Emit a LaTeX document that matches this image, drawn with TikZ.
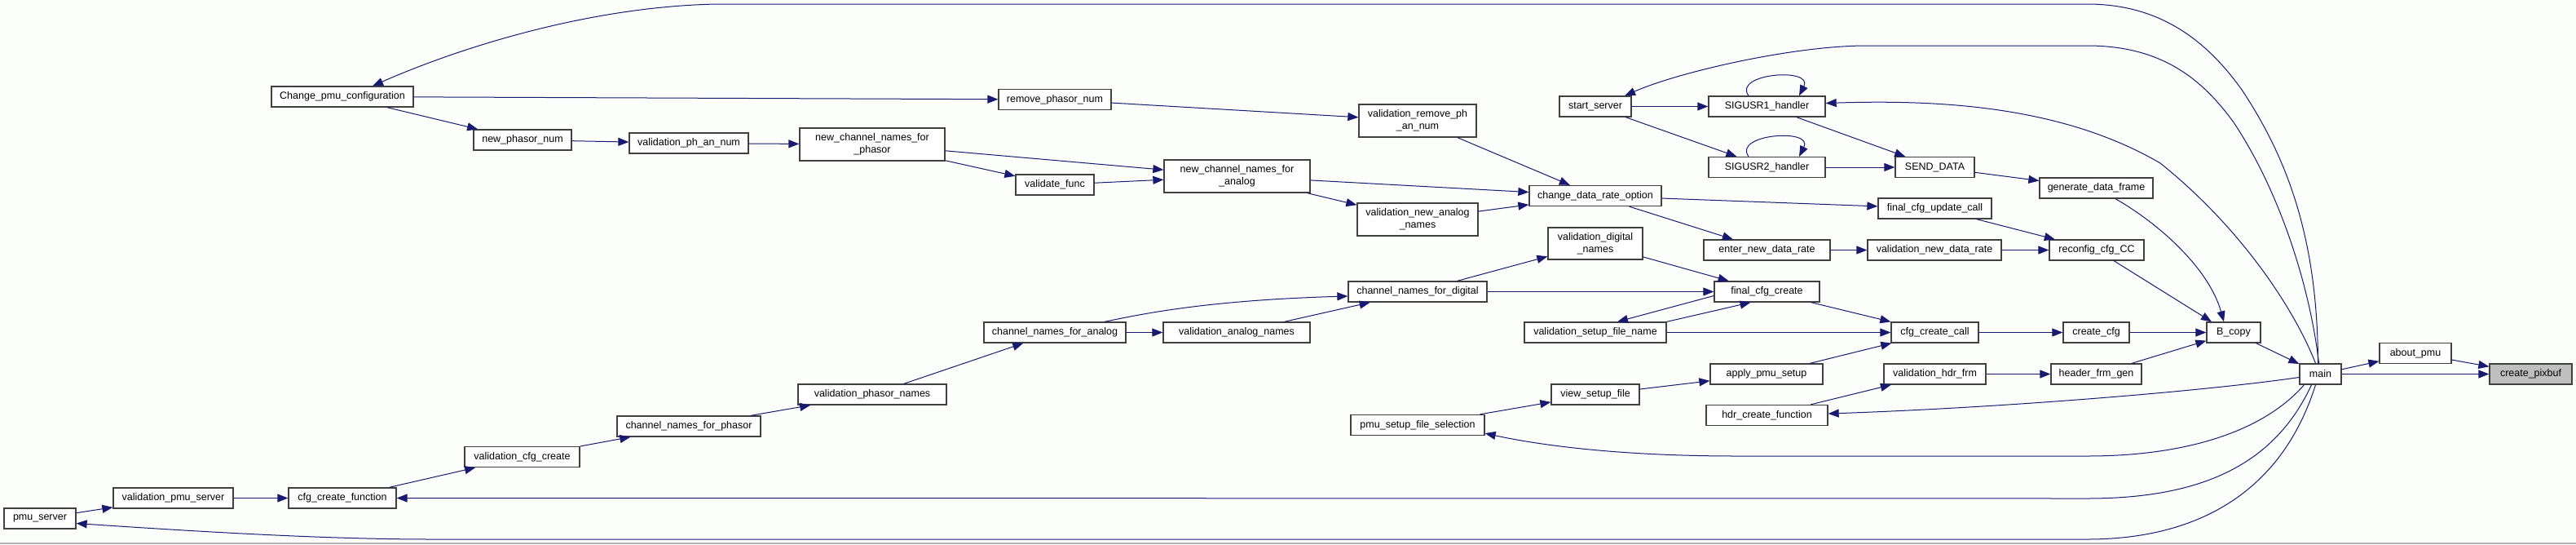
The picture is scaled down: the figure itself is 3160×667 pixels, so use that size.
\documentclass[tikz,border=0pt]{standalone}
\usepackage{fontspec}
\setmainfont{Liberation Sans}
\usetikzlibrary{arrows.meta}
\definecolor{edgecol}{HTML}{191970}
\definecolor{nodeborder}{HTML}{404040}
\definecolor{hilite}{HTML}{BFBFBF}
\definecolor{bgcol}{HTML}{FCFEFC}
\begin{document}
\begin{tikzpicture}[x=1pt,y=-1pt,
  fn/.style={draw=nodeborder, fill=white, line width=1.3pt, inner sep=0pt,
    minimum height=25pt, align=center, font=\fontsize{12.5}{15}\selectfont},
  two/.style={minimum height=40pt},
  conn/.style={draw=edgecol, line width=1pt, -{Triangle[length=13pt,width=10pt]}}]
\useasboundingbox (0,0) rectangle (3160,667);
\fill[bgcol] (0,0) rectangle (3160,667);
\draw[gray!60, line width=1.5pt] (0,666) -- (3160,666);

% nodes
\node[fn, minimum width=174pt] (Change) at (420,118.5) {Change\_pmu\_configuration};
\node[fn, minimum width=88pt] (pmuserver) at (49,635.5) {pmu\_server};
\node[fn, minimum width=147pt] (vpmus) at (212.5,610.5) {validation\_pmu\_server};
\node[fn, minimum width=132pt] (cff) at (420,610.5) {cfg\_create\_function};
\node[fn, minimum width=120pt] (npn) at (641,171.5) {new\_phasor\_num};
\node[fn, minimum width=146pt] (vpan) at (845,175.5) {validation\_ph\_an\_num};
\node[fn, two, minimum width=178pt] (ncnfp) at (1070,177) {new\_channel\_names\_for\\\_phasor};
\node[fn, minimum width=138pt] (rpn) at (1294,122) {remove\_phasor\_num};
\node[fn, minimum width=96pt] (vfunc) at (1294,226.5) {validate\_func};
\node[fn, two, minimum width=179pt] (ncnfa) at (1517.5,216) {new\_channel\_names\_for\\\_analog};
\node[fn, two, minimum width=144pt] (vrpan) at (1739,148) {validation\_remove\_ph\\\_an\_num};
\node[fn, two, minimum width=148pt] (vnan) at (1739,269) {validation\_new\_analog\\\_names};
\node[fn, minimum width=162pt] (cdro) at (1957,240) {change\_data\_rate\_option};
\node[fn, minimum width=88pt] (ss) at (1957,130.5) {start\_server};
\node[fn, two, minimum height=39pt, minimum width=116pt] (vdn) at (1957,298.5) {validation\_digital\\\_names};
\node[fn, minimum width=155pt] (endr) at (2167.5,306.5) {enter\_new\_data\_rate};
\node[fn, minimum width=143pt] (s1) at (2167.5,130.5) {SIGUSR1\_handler};
\node[fn, minimum width=143pt] (s2) at (2167.5,205) {SIGUSR2\_handler};
\node[fn, minimum width=97pt] (sd) at (2373.5,205) {SEND\_DATA};
\node[fn, minimum width=139pt] (gdf) at (2571.5,230.5) {generate\_data\_frame};
\node[fn, minimum width=139pt] (fcuc) at (2373.5,255.5) {final\_cfg\_update\_call};
\node[fn, minimum width=164pt] (vndr) at (2373,306.5) {validation\_new\_data\_rate};
\node[fn, minimum width=116pt] (rcc) at (2572,306.5) {reconfig\_cfg\_CC};
\node[fn, minimum width=129pt] (fcc) at (2167.5,357.5) {final\_cfg\_create};
\node[fn, minimum width=107pt] (ccc) at (2373.5,407.5) {cfg\_create\_call};
\node[fn, minimum width=81pt] (ccfg) at (2571.5,407.5) {create\_cfg};
\node[fn, minimum width=138pt] (aps) at (2167,458.5) {apply\_pmu\_setup};
\node[fn, minimum width=125pt] (vhf) at (2373.5,458.5) {validation\_hdr\_frm};
\node[fn, minimum width=111pt] (hfg) at (2571.5,458.5) {header\_frm\_gen};
\node[fn, minimum width=149pt] (hcf) at (2167.5,509) {hdr\_create\_function};
\node[fn, minimum width=170pt] (cnfd) at (1739,357.5) {channel\_names\_for\_digital};
\node[fn, minimum width=174pt] (vsfn) at (1957,407.5) {validation\_setup\_file\_name};
\node[fn, minimum width=108pt] (vsf) at (1957,483.5) {view\_setup\_file};
\node[fn, minimum width=164pt] (psfs) at (1739,521) {pmu\_setup\_file\_selection};
\node[fn, minimum width=174pt] (cnfa) at (1294,407.5) {channel\_names\_for\_analog};
\node[fn, minimum width=180pt] (van) at (1517,407.5) {validation\_analog\_names};
\node[fn, minimum width=182pt] (vphn) at (1070,483.5) {validation\_phasor\_names};
\node[fn, minimum width=176pt] (cnfp) at (845,522.5) {channel\_names\_for\_phasor};
\node[fn, minimum width=141pt] (vcc) at (640.5,560) {validation\_cfg\_create};
\node[fn, minimum width=66pt] (bcopy) at (2740,407.5) {B\_copy};
\node[fn, minimum width=51pt] (main) at (2846.5,458.5) {main};
\node[fn, minimum width=88pt] (apmu) at (2963,433) {about\_pmu};
\node[fn, fill=hilite, minimum width=101pt] (cpb) at (3104.5,458.5) {create\_pixbuf};

% straight connectors
\draw[conn] (apmu) -- (cpb);
\draw[conn] (main) -- (cpb);
\draw[conn] (main) -- (apmu);
\draw[conn] (bcopy) -- (main);
\draw[conn] (ccfg) -- (bcopy);
\draw[conn] (hfg) -- (bcopy);
\draw[conn] (rcc) -- ([xshift=-27pt]bcopy.north);
\draw[conn] ([xshift=23.5pt]gdf.south) .. controls (2650,275) and (2710,330) .. ([xshift=-12pt]bcopy.north);
\draw[conn] (ccc) -- (ccfg);
\draw[conn] (vhf) -- (hfg);
\draw[conn] (fcuc) -- (rcc);
\draw[conn] (vndr) -- (rcc);
\draw[conn] (endr) -- (vndr);
\draw[conn] (cdro) -- (endr);
\draw[conn] (cdro) -- (fcuc);
\draw[conn] (sd) -- (gdf);
\draw[conn] (s1) -- (sd);
\draw[conn] (s2) -- (sd);
\draw[conn] (ss) -- (s1);
\draw[conn] (ss) -- (s2);
\draw[conn] ([xshift=-22.5pt]s1.north) .. controls (2125,90) and (2225,82) .. ([xshift=39.5pt]s1.north);
\draw[conn] ([xshift=-22.5pt]s2.north) .. controls (2125,164.5) and (2225,156.5) .. ([xshift=39.5pt]s2.north);
\draw[conn] (vrpan) -- (cdro);
\draw[conn] (ncnfa) -- (cdro);
\draw[conn] (vnan) -- (cdro);
\draw[conn] (ncnfa) -- (vnan);
\draw[conn] (rpn) -- (vrpan);
\draw[conn] (Change) -- (rpn);
\draw[conn] (Change) -- (npn);
\draw[conn] (npn) -- (vpan);
\draw[conn] (vpan) -- (ncnfp);
\draw[conn] (ncnfp) -- (ncnfa);
\draw[conn] (ncnfp) -- (vfunc);
\draw[conn] (vfunc) -- (ncnfa);
\draw[conn] (vdn) -- (fcc);
\draw[conn] (cnfd) -- (vdn);
\draw[conn] (cnfd) -- (fcc);
\draw[conn] ([yshift=-5pt]fcc.west) -- ([xshift=27pt]vsfn.north);
\draw[conn] (vsfn.north east) -- ([xshift=-20pt]fcc.south);
\draw[conn] (vsfn) -- (ccc);
\draw[conn] (fcc) -- (ccc);
\draw[conn] (aps) -- (ccc);
\draw[conn] (vsf) -- (aps);
\draw[conn] (psfs) -- (vsf);
\draw[conn] (hcf) -- (vhf);
\draw[conn] (van) -- (cnfd);
\draw[conn] (cnfa) -- (van);
\draw[conn] ([xshift=61pt]cnfa.north) .. controls (1400,385) and (1480,368) .. ([yshift=-5.5pt]cnfd.west);
\draw[conn] (vphn) -- (cnfa);
\draw[conn] (cnfp) -- (vphn);
\draw[conn] (vcc) -- (cnfp);
\draw[conn] (cff) -- (vcc);
\draw[conn] (vpmus) -- (cff);
\draw[conn] (pmuserver) -- (vpmus);

% long curves from main
\draw[conn] ([xshift=-3pt]main.north) .. controls (2843,300) and (2810,200) .. (2750,110)
  .. controls (2700,40) and (2640,5) .. (2560,5) -- (880,5)
  .. controls (720,8) and (560,60) .. ([xshift=37pt]Change.north);
\draw[conn] ([xshift=-2pt]main.north) .. controls (2835,360) and (2800,240) .. (2740,150)
  .. controls (2700,95) and (2650,56) .. (2560,56) -- (2290,56)
  .. controls (2200,56) and (2060,88) .. ([xshift=36pt]ss.north);
\draw[conn] ([xshift=-6pt]main.north) .. controls (2815,380) and (2750,280) .. (2650,200)
  .. controls (2530,130) and (2380,122) .. ([yshift=4pt]s1.east);
\draw[conn] ([yshift=-4pt]main.west) .. controls (2700,480) and (2450,500) .. ([yshift=2pt]hcf.east);
\draw[conn] ([xshift=-20pt]main.south) .. controls (2780,525) and (2690,559) .. (2560,559) -- (2130,559)
  .. controls (2000,559) and (1900,548) .. ([yshift=3pt]psfs.south east);
\draw[conn] ([xshift=-11pt]main.south) .. controls (2790,570) and (2700,611) .. (2560,611) -- (cff.east);
\draw[conn] ([xshift=-6pt]main.south) .. controls (2800,600) and (2700,661) .. (2560,661) -- (530,661)
  .. controls (400,661) and (250,652) .. ([yshift=-6pt]pmuserver.east);
\end{tikzpicture}
\end{document}
